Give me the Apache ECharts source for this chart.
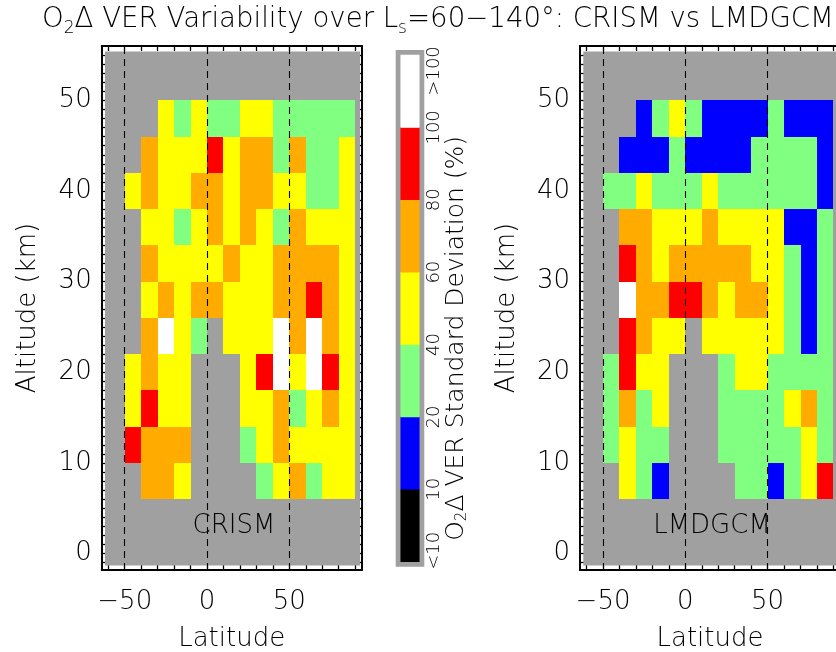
<!DOCTYPE html>
<html><head><meta charset="utf-8">
<script src="https://cdn.jsdelivr.net/npm/echarts@6/dist/echarts.min.js"></script>
<style>html,body{margin:0;padding:0;background:#fff}#c{width:836px;height:652px}</style>
</head><body><div id="c"></div>
<script>
// ---------------- data ----------------
const latCenters = [-45, -35, -25, -15, -5, 5, 15, 25, 35, 45, 55, 65, 75, 85];
const altCenters = [48, 44, 40, 36, 32, 28, 24, 20, 16, 12, 8];
// O2Δ VER standard deviation (%) — rows from top (48 km) to bottom (8 km); null = no data
const crism = [
  [null, null, 50, 30, 50, 30, 30, 50, 50, 30, 30, 30, 30, 30],
  [null, 70, 50, 50, 50, 90, 50, 70, 70, 30, 70, 30, 30, 50],
  [50, 70, 50, 50, 70, 70, 50, 70, 70, 50, 50, 30, 30, 50],
  [null, 50, 50, 30, 50, 70, 50, 70, 50, 30, 70, 50, 50, 50],
  [null, 70, 50, 50, 50, 50, 70, 50, 50, 70, 70, 70, 70, 50],
  [null, 50, 70, 50, 70, 70, 50, 50, 50, 70, 70, 90, 70, 50],
  [null, 70, 110, 50, 30, null, 50, 50, 50, 110, 70, 110, 70, 50],
  [50, 70, 50, 50, null, null, null, 50, 90, 110, 50, 110, 90, 50],
  [50, 90, 50, 50, null, null, null, 50, 50, 70, 30, 50, 70, 50],
  [90, 70, 70, 70, null, null, null, 30, 50, 70, 50, 50, 50, 50],
  [null, 70, 70, 50, null, null, null, null, 30, 50, 70, 30, 50, 50]
];
const lmdgcm = [
  [null, null, 15, 30, 50, 30, 15, 15, 15, 15, 30, 15, 15, 15],
  [null, 15, 15, 15, 30, 15, 15, 15, 15, 30, 30, 30, 30, 15],
  [30, 30, 50, 30, 30, 30, 50, 30, 30, 30, 30, 30, 30, 15],
  [null, 70, 70, 50, 50, 50, 70, 50, 50, 50, 50, 15, 15, 30],
  [null, 90, 70, 50, 70, 70, 70, 70, 70, 50, 50, 30, 15, 30],
  [null, 110, 70, 70, 90, 90, 70, 50, 70, 70, 50, 30, 15, 30],
  [null, 90, 70, 50, 50, null, 50, 50, 50, 50, 50, 30, 15, 30],
  [30, 90, 50, 50, null, null, null, 30, 50, 50, 30, 30, 30, 30],
  [30, 70, 30, 50, null, null, null, 30, 30, 30, 30, 50, 70, 30],
  [30, 50, 30, 30, null, null, null, 30, 30, 30, 30, 30, 50, 30],
  [null, 50, 30, 15, null, null, null, null, 30, 30, 15, 30, 50, 90]
];
// colour bar
const cbLevels = ['<10', '10-20', '20-40', '40-60', '60-80', '80-100', '>100'];
const cbValues = [5, 15, 30, 50, 70, 90, 110];
const cbTickLabels = ['<10', '10', '20', '40', '60', '80', '100', '>100'];
const cbTickPos = [0.15, 1, 2, 3, 4, 5, 6, 6.78];
// axis ticks / labels
const latLabels = [-50, 0, 50];
const altLabels = [0, 10, 20, 30, 40, 50];
const dashedLats = [-50, 0, 50];
const panelNames = ['CRISM', 'LMDGCM'];

// ---------------- layout / style ----------------
const FONT = 'DejaVu Sans';
const FW = 200;
const latStep = 10, altStep = 4;
const GRAY = '#a0a0a0';
const latRange = [-64, 94], altRange = [-1.8, 56];
const plotRegion = [-62, -1.3, 93, 55.4];
const latMinor = []; for (let v = -60; v <= 90; v += 10) latMinor.push(v);
const altMinor = []; for (let v = -1; v <= 55; v += 1) altMinor.push(v);
const fmtNum = v => (v < 0 ? '\u2212' + (-v) : String(v));

function cellsOf(grid) {
  const out = [];
  grid.forEach((row, r) => row.forEach((v, c) => { if (v != null) out.push([latCenters[c], altCenters[r], v]); }));
  return out;
}
function renderCell(params, api) {
  const p0 = api.coord([api.value(0) - latStep / 2, api.value(1) + altStep / 2]);
  const p1 = api.coord([api.value(0) + latStep / 2, api.value(1) - altStep / 2]);
  const x0 = Math.round(p0[0]), y0 = Math.round(p0[1]), x1 = Math.round(p1[0]), y1 = Math.round(p1[1]);
  return { type: 'rect', shape: { x: x0, y: y0, width: x1 - x0, height: y1 - y0 },
           style: { fill: api.visual('color') } };
}
function renderBg(params, api) {
  const p0 = api.coord([api.value(0), api.value(3)]);
  const p1 = api.coord([api.value(2), api.value(1)]);
  return { type: 'rect', shape: { x: p0[0], y: p0[1], width: p1[0] - p0[0], height: p1[1] - p0[1] },
           style: { fill: GRAY } };
}

const grids = [
  { left: 101.7, top: 46, width: 260, height: 524, outerBoundsMode: 'none', containLabel: false },
  { left: 580, top: 46, width: 260, height: 524, outerBoundsMode: 'none', containLabel: false },
  { left: 400.7, top: 55, width: 18.6, height: 506.7, outerBoundsMode: 'none', containLabel: false,
    show: true, borderColor: GRAY, borderWidth: 10, backgroundColor: GRAY }
];
const lineStyle = { color: '#000', width: 2 };
const tickStyle = { color: '#000', width: 1.3 };
const txt = (size, extra) => Object.assign({ fontSize: size, fontFamily: FONT, fontWeight: FW, color: '#000' }, extra || {});
const xAxes = [], yAxes = [];
[0, 1].forEach(g => {
  ['bottom', 'top'].forEach(pos => {
    xAxes.push({
      type: 'value', gridIndex: g, position: pos, min: latRange[0], max: latRange[1],
      axisLine: { show: true, onZero: false, lineStyle },
      axisTick: { show: true, inside: true, length: 5, lineStyle: tickStyle, customValues: latMinor },
      axisLabel: pos === 'bottom' ? txt(26, { show: true, customValues: latLabels, formatter: fmtNum, margin: 19 }) : { show: false },
      splitLine: { show: false },
      name: pos === 'bottom' ? 'Latitude' : '', nameLocation: 'middle', nameGap: 56,
      nameTextStyle: txt(26)
    });
  });
  ['left', 'right'].forEach(pos => {
    yAxes.push({
      type: 'value', gridIndex: g, position: pos, min: altRange[0], max: altRange[1],
      axisLine: { show: true, onZero: false, lineStyle },
      axisTick: { show: true, inside: true, length: 5, lineStyle: tickStyle, customValues: altMinor },
      axisLabel: pos === 'left' ? txt(26, { show: true, customValues: altLabels, formatter: fmtNum, margin: 10, padding: [8, 0, 0, 0] }) : { show: false },
      splitLine: { show: false },
      name: pos === 'left' ? 'Altitude (km)' : '', nameLocation: 'middle', nameGap: 60, nameRotate: 90,
      nameTextStyle: txt(26)
    });
  });
});
// colour bar axes
xAxes.push({ type: 'category', gridIndex: 2, data: ['sd'], show: false });
yAxes.push({ type: 'category', gridIndex: 2, data: cbLevels, show: false });
yAxes.push({
  type: 'value', gridIndex: 2, position: 'right', min: 0, max: 7,
  axisLine: { show: false }, axisTick: { show: false }, splitLine: { show: false },
  axisLabel: txt(18, { show: true, rotate: 90, customValues: cbTickPos, margin: 6,
    formatter: v => cbTickLabels[cbTickPos.indexOf(v)] }),
  name: 'O{sub|2}Δ VER Standard Deviation (%)', nameLocation: 'middle', nameRotate: 90, nameGap: 22,
  nameTextStyle: txt(25, { padding: [0, 60, 0, 0],
    rich: { sub: txt(15, { verticalAlign: 'bottom', lineHeight: 15 }) } })
});

const series = [];
[crism, lmdgcm].forEach((grid, g) => {
  series.push({ type: 'custom', xAxisIndex: g * 2, yAxisIndex: g * 2, z: 1, silent: true,
    renderItem: renderBg, data: [plotRegion], encode: { x: [0, 2], y: [1, 3] } });
  series.push({ type: 'custom', xAxisIndex: g * 2, yAxisIndex: g * 2, z: 2, silent: true,
    renderItem: renderCell, data: cellsOf(grid), encode: { x: 0, y: 1 },
    markLine: { silent: true, symbol: 'none', label: { show: false }, z: 5,
      lineStyle: { color: '#000', width: 1.1, type: [7, 5] },
      data: dashedLats.map(v => ({ xAxis: v })) } });
});
series.push({ type: 'heatmap', xAxisIndex: 4, yAxisIndex: 4, z: 2, silent: true,
  data: cbValues.map((v, i) => [0, i, v]), itemStyle: { borderWidth: 0 }, emphasis: { disabled: true } });

const option = {
  animation: false,
  backgroundColor: '#fff',
  title: {
    text: 'O{sub|2}Δ VER Variability over L{sub|s}=60\u2212140°: CRISM vs LMDGCM',
    left: 42, top: 2, padding: 0,
    textStyle: txt(27.6, { lineHeight: 35,
      rich: { sub: txt(17, { verticalAlign: 'bottom', lineHeight: 17 }) } })
  },
  grid: grids, xAxis: xAxes, yAxis: yAxes,
  visualMap: {
    type: 'piecewise', show: false, dimension: 2, seriesIndex: [1, 3, 4],
    pieces: [
      { lt: 10, color: '#000000' },
      { gte: 10, lt: 20, color: '#0000ff' },
      { gte: 20, lt: 40, color: '#80ff80' },
      { gte: 40, lt: 60, color: '#ffff00' },
      { gte: 60, lt: 80, color: '#ffab00' },
      { gte: 80, lt: 100, color: '#ff0000' },
      { gte: 100, color: '#ffffff' }
    ]
  },
  graphic: [
    { type: 'text', x: 234, y: 526, z: 10, silent: true,
      style: { text: panelNames[0], fontSize: 26, fontFamily: FONT, fontWeight: FW, fill: '#000', align: 'center', verticalAlign: 'middle' } },
    { type: 'text', x: 712, y: 526, z: 10, silent: true,
      style: { text: panelNames[1], fontSize: 26, fontFamily: FONT, fontWeight: FW, fill: '#000', align: 'center', verticalAlign: 'middle' } }
  ],
  series
};
const chart = echarts.init(document.getElementById('c'));
chart.setOption(option);
</script>
</body></html>
